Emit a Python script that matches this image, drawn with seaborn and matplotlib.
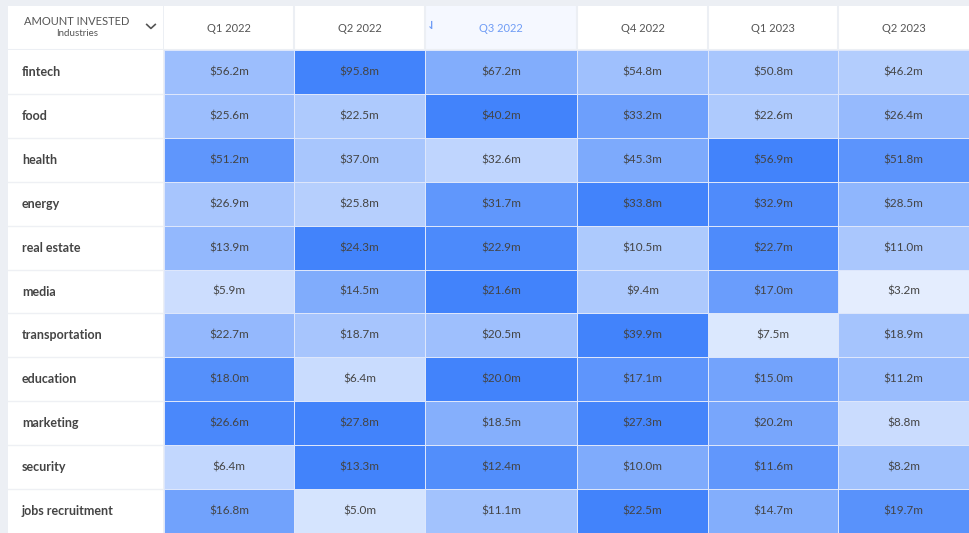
import numpy as np
import pandas as pd
import seaborn as sns
import matplotlib.pyplot as plt
from matplotlib.colors import LinearSegmentedColormap

plt.rcParams['font.family'] = ['Lato', 'DejaVu Sans']

industries = ["fintech", "food", "health", "energy", "real estate", "media",
              "transportation", "education", "marketing", "security", "jobs recruitment"]
quarters = ["Q1 2022", "Q2 2022", "Q3 2022", "Q4 2022", "Q1 2023", "Q2 2023"]

# amount invested, $m
fintech = [56.2, 95.8, 67.2, 54.8, 50.8, 46.2]
food = [25.6, 22.5, 40.2, 33.2, 22.6, 26.4]
health = [51.2, 37.0, 32.6, 45.3, 56.9, 51.8]
energy = [26.9, 25.8, 31.7, 33.8, 32.9, 28.5]
real_estate = [13.9, 24.3, 22.9, 10.5, 22.7, 11.0]
media = [5.9, 14.5, 21.6, 9.4, 17.0, 3.2]
transportation = [22.7, 18.7, 20.5, 39.9, 7.5, 18.9]
education = [18.0, 6.4, 20.0, 17.1, 15.0, 11.2]
marketing = [26.6, 27.8, 18.5, 27.3, 20.2, 8.8]
security = [6.4, 13.3, 12.4, 10.0, 11.6, 8.2]
jobs_recruitment = [16.8, 5.0, 11.1, 22.5, 14.7, 19.7]

df = pd.DataFrame([fintech, food, health, energy, real_estate, media, transportation,
                   education, marketing, security, jobs_recruitment],
                  index=industries, columns=quarters)

# colour is scaled per row (each industry against itself)
vals = df.to_numpy()
lo = np.clip(vals.mean(axis=1, keepdims=True) - 3 * vals.std(axis=1, keepdims=True), 0, None)
hi = vals.max(axis=1, keepdims=True)
shade = pd.DataFrame((vals - lo) / (hi - lo), index=industries, columns=quarters)
labels = df.map(lambda v: f"${v:.1f}m")

W, H = 969, 533
fig = plt.figure(figsize=(W / 100, H / 100), dpi=100, facecolor='#eceff4')


def box(x0, y0, x1, y1):
    return [x0 / W, 1 - y1 / H, (x1 - x0) / W, (y1 - y0) / H]


# sorted column (Q3) is a bit wider in the original table
col_px = np.array([0, 130, 261, 413, 544, 674, 805])
edges = np.arange(len(quarters) + 1)
fwd = lambda x: np.interp(x, edges, col_px)
inv = lambda x: np.interp(x, col_px, edges)

cmap = LinearSegmentedColormap.from_list('row_blue', ['#ffffff', '#4283fb'])

ax = fig.add_axes(box(164, 50, 969, 533))
sns.heatmap(shade, ax=ax, cmap=cmap, vmin=0, vmax=1, cbar=False,
            annot=labels, fmt='', annot_kws={'fontsize': 8.5, 'color': '#444444'},
            linewidths=0.6, linecolor='#dde6fb')
ax.set_xscale('function', functions=(fwd, inv))
ax.set_xlim(0, len(quarters))
ax.set_xticks([])
ax.set_yticks([])
ax.set_xlabel('')
ax.set_ylabel('')

# row labels column
axl = fig.add_axes(box(8, 50, 163, 533))
axl.set_facecolor('white')
axl.set_xlim(0, 1)
axl.set_ylim(len(industries), 0)
for i, name in enumerate(industries):
    axl.text(14 / 155, i + 0.5, name, ha='left', va='center', fontsize=9,
             fontweight='bold', color='#444444')
    if i > 0:
        axl.axhline(i, color='#eef0f4', lw=1)
axl.set_xticks([])
axl.set_yticks([])
for s in axl.spines.values():
    s.set_visible(False)

# header row
axh = fig.add_axes(box(164, 6, 969, 50))
axh.set_facecolor('white')
axh.set_xscale('function', functions=(fwd, inv))
axh.set_xlim(0, len(quarters))
axh.set_ylim(0, 1)
axh.axvspan(2, 3, color='#f5f8ff', lw=0)
for k in range(1, len(quarters)):
    axh.axvline(k, color='#eceff4', lw=1.5)
axh.axhline(0, color='#eceff4', lw=1.5)
for i, q in enumerate(quarters):
    axh.text(i + 0.5, 0.5, q, ha='center', va='center', fontsize=8,
             color='#6f9cf5' if i == 2 else '#555555')
axh.text(2.04, 0.56, '⇃', ha='center', va='center', fontsize=8,
         fontweight='bold', color='#6f9cf5')
axh.set_xticks([])
axh.set_yticks([])
for s in axh.spines.values():
    s.set_visible(False)

axc = fig.add_axes(box(8, 6, 163, 50))
axc.set_facecolor('white')
axc.set_xlim(0, 1)
axc.set_ylim(0, 1)
axc.axhline(0, color='#eceff4', lw=1.5)
axc.text(0.445, 0.64, 'AMOUNT INVESTED', ha='center', va='center', fontsize=8, color='#555555')
axc.text(0.445, 0.37, 'Industries', ha='center', va='center', fontsize=7, color='#555555')
axc.plot([0.895, 0.922, 0.95], [0.58, 0.49, 0.58], color='#555555', lw=1.2)
axc.set_xticks([])
axc.set_yticks([])
for s in axc.spines.values():
    s.set_visible(False)

fig.savefig('out.png', dpi=100, facecolor=fig.get_facecolor())
